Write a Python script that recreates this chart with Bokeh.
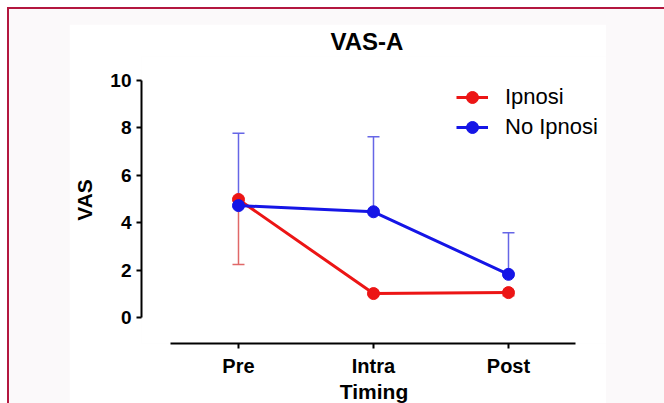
from bokeh.plotting import figure
from bokeh.models import (Range1d, FixedTicker, Whisker, TeeHead, ColumnDataSource,
                          Legend, LegendItem, Column)
from bokeh.embed import file_html
from bokeh.resources import INLINE

# ---- data ----
categories = ["Pre", "Intra", "Post"]
ipnosi_mean = [4.98, 1.01, 1.05]
ipnosi_lower = [2.24, 1.0, 0.92]
no_ipnosi_mean = [4.72, 4.46, 1.82]
no_ipnosi_upper = [7.77, 7.62, 3.58]
y_ticks = [0, 2, 4, 6, 8, 10]

x_pos = list(range(len(categories)))

RED = "#ec1515"
BLUE = "#1515e6"
FONT = "Liberation Sans"

p = figure(width=537, height=389, output_backend="svg", toolbar_location=None,
           x_range=Range1d(-0.7185, 2.726), y_range=Range1d(-1.097, 11.01),
           min_border_left=72, min_border_right=0, min_border_top=32, min_border_bottom=70)
p.margin = (15, 0, 0, 60)
p.background_fill_color = "white"
p.border_fill_color = "white"
p.outline_line_color = None
p.grid.visible = False

p.title.text = "VAS-A"
p.title.align = "left"
p.title.offset = 189
p.title.text_font = FONT
p.title.text_font_size = "24px"
p.title.text_font_style = "bold"
p.title.text_color = "black"
p.title.standoff = 3

# axes
xa = p.xaxis[0]
xa.ticker = FixedTicker(ticks=x_pos)
xa.major_label_overrides = {i: c for i, c in enumerate(categories)}
xa.bounds = (-0.5, 2.5)
xa.axis_label = "Timing"
ya = p.yaxis[0]
ya.ticker = FixedTicker(ticks=y_ticks)
ya.bounds = (0, 10)
ya.axis_label = "VAS"
for ax in (xa, ya):
    ax.axis_line_width = 2
    ax.axis_line_color = "black"
    ax.major_tick_line_width = 2
    ax.major_tick_line_color = "black"
    ax.major_tick_out = 5
    ax.major_tick_in = 0
    ax.minor_tick_out = 0
    ax.minor_tick_in = 0
    ax.major_label_text_font = FONT
    ax.major_label_text_font_style = "bold"
    ax.major_label_text_color = "black"
    ax.axis_label_text_font = FONT
    ax.axis_label_text_font_style = "bold"
    ax.axis_label_text_font_size = "21px"
    ax.axis_label_text_color = "black"
xa.major_label_text_font_size = "20px"
ya.major_label_text_font_size = "19px"
xa.major_label_standoff = 6
ya.major_label_standoff = 5
xa.axis_label_standoff = 0
ya.axis_label_standoff = 11

# error bars
red_src = ColumnDataSource(dict(x=x_pos, lower=ipnosi_lower, upper=ipnosi_mean))
blue_src = ColumnDataSource(dict(x=x_pos, lower=no_ipnosi_mean, upper=no_ipnosi_upper))
w_red = Whisker(base="x", lower="lower", upper="upper", source=red_src,
                line_color="#e06868", line_width=1.5,
                lower_head=TeeHead(size=12, line_color="#e06868", line_width=1.5),
                upper_head=None)
w_blue = Whisker(base="x", lower="lower", upper="upper", source=blue_src,
                 line_color="#6666e6", line_width=1.5,
                 upper_head=TeeHead(size=12, line_color="#6666e6", line_width=1.5),
                 lower_head=None)
p.add_layout(w_red)
p.add_layout(w_blue)

# lines and points
r_line = p.line(x_pos, ipnosi_mean, line_color=RED, line_width=3)
r_pts = p.scatter(x_pos, ipnosi_mean, size=12, fill_color=RED, line_color=RED)
b_line = p.line(x_pos, no_ipnosi_mean, line_color=BLUE, line_width=3)
b_pts = p.scatter(x_pos, no_ipnosi_mean, size=12, fill_color=BLUE, line_color=BLUE)

legend = Legend(items=[LegendItem(label="Ipnosi", renderers=[r_line, r_pts]),
                       LegendItem(label="No Ipnosi", renderers=[b_line, b_pts])],
                location=(315, 201), orientation="vertical",
                glyph_width=32, glyph_height=30, label_height=30, spacing=0,
                label_standoff=17, padding=0, margin=0,
                border_line_color=None, background_fill_alpha=0,
                label_text_font=FONT, label_text_font_size="22px", label_text_color="black")
p.add_layout(legend, "center")

page = Column(children=[p], width=657, height=396, margin=(7, 0, 0, 7),
              styles={"background-color": "#fbf9fa",
                      "border-top": "2px solid #b3173f",
                      "border-left": "2px solid #b3173f",
                      "overflow": "hidden"})

open("out.html", "w").write(file_html(page, INLINE))
